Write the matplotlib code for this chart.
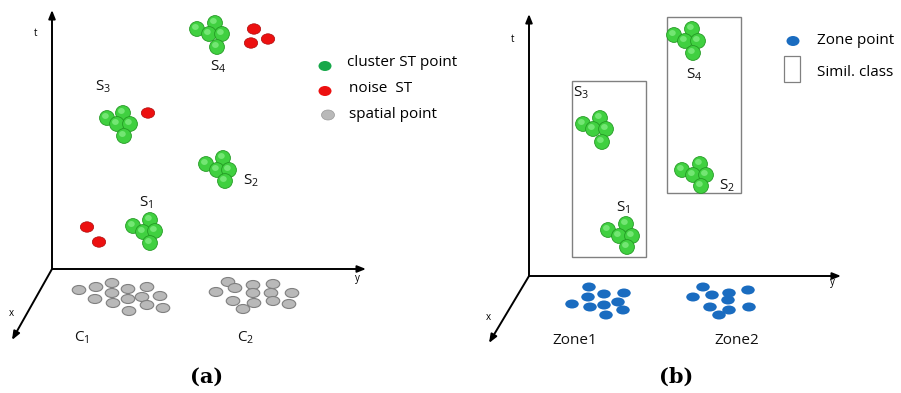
"""
Spatio-temporal clusters: (a) ST clusters with noise over spatial clusters,
(b) similarity classes of ST clusters over zones.
"""

import matplotlib.pyplot as plt
from matplotlib.patches import Ellipse, Rectangle

plt.rcParams["font.family"] = ["Open Sans", "DejaVu Sans"]
plt.rcParams["mathtext.default"] = "regular"

# ---- panel (a) ----
a_origin = (52, 269)
a_t_tip = (52, 10)
a_y_tip = (366, 269)
a_x_tip = (12, 340)

a_clusters = {
    "S$_4$": [(197, 29), (215, 23), (209, 34), (222, 34), (217, 47)],
    "S$_3$": [(107, 118), (123, 113), (117, 124), (130, 124), (124, 136)],
    "S$_2$": [(206, 164), (223, 158), (217, 170), (229, 170), (225, 181)],
    "S$_1$": [(133, 226), (150, 220), (143, 232), (155, 231), (150, 243)],
}
a_cluster_labels = {
    "S$_4$": (218, 67),
    "S$_3$": (103, 87),
    "S$_2$": (251, 181),
    "S$_1$": (146, 203),
}
a_noise = [(254, 29), (251, 43), (268, 39), (148, 113), (87, 227), (99, 242)]

c1_points = [(79, 290), (96, 287), (112, 283), (128, 289), (147, 287), (112, 293),
             (95, 299), (113, 303), (128, 299), (142, 297), (160, 296), (147, 305),
             (163, 308), (129, 311)]
c2_points = [(216, 292), (228, 282), (235, 288), (253, 285), (273, 284), (253, 293),
             (271, 293), (292, 293), (233, 301), (254, 303), (273, 301), (289, 304),
             (243, 309)]
a_spatial_labels = {"C$_1$": (82, 338), "C$_2$": (246, 338)}

a_legend = ["cluster ST point", "noise  ST", "spatial point"]

# ---- panel (b) ----
b_origin = (529, 276)
b_t_tip = (529, 14)
b_y_tip = (841, 276)
b_x_tip = (489, 343)

b_clusters = {
    "S$_4$": [(674, 35), (692, 29), (685, 41), (698, 41), (693, 53)],
    "S$_3$": [(583, 124), (600, 118), (593, 129), (606, 129), (602, 142)],
    "S$_2$": [(682, 170), (700, 164), (693, 175), (706, 175), (701, 186)],
    "S$_1$": [(608, 230), (626, 224), (619, 236), (632, 236), (627, 247)],
}
b_cluster_labels = {
    "S$_4$": (694, 75),
    "S$_3$": (581, 93),
    "S$_2$": (727, 186),
    "S$_1$": (623, 208),
}
# similarity classes: (left, top, right, bottom)
b_classes = [(572, 81, 646, 257), (667, 17, 741, 193)]

zone1_points = [(589, 287), (624, 293), (588, 297), (604, 294), (572, 304), (590, 307),
                (604, 305), (618, 302), (623, 310), (606, 315)]
zone2_points = [(703, 287), (748, 290), (693, 297), (712, 295), (729, 293), (728, 300),
                (710, 307), (729, 310), (749, 307), (719, 315)]
b_zone_labels = {"Zone1": (575, 340), "Zone2": (737, 340)}

b_legend = ["Zone point", "Simil. class"]

GREEN = "#40d040"
GREEN_EDGE = "#239a23"
GREEN_HI = "#96f596"
RED = "#ec1010"
GRAY = "#b9b9b9"
GRAY_EDGE = "#7f7f7f"
BLUE = "#1a6cc0"


def ball(ax, x, y, r=7.4):
    ax.add_patch(Ellipse((x, y), 2 * r, 2 * r, fc=GREEN, ec=GREEN_EDGE, lw=0.6, zorder=3))
    ax.add_patch(Ellipse((x - 1.6, y - 2.0), r * 0.9, r * 0.8, fc=GREEN_HI, ec="none",
                         alpha=0.6, zorder=3))


def flat(ax, x, y, fc, ec="none", w=13.5, h=9, lw=0.8):
    ax.add_patch(Ellipse((x, y), w, h, fc=fc, ec=ec, lw=lw, zorder=3))


def axes3d(ax, origin, t_tip, y_tip, x_tip):
    for tip in (t_tip, y_tip, x_tip):
        ax.annotate("", xy=tip, xytext=origin,
                    arrowprops=dict(arrowstyle="-|>,head_length=0.5,head_width=0.2",
                                    color="black", lw=1.4, shrinkA=0, shrinkB=0))


fig = plt.figure(figsize=(9.01, 3.93), dpi=100)
ax = fig.add_axes([0, 0, 1, 1])
ax.set_xlim(0, 901)
ax.set_ylim(393, 0)
ax.axis("off")

lbl = dict(fontsize=11, ha="center", va="center", color="#111111")

# panel (a)
axes3d(ax, a_origin, a_t_tip, a_y_tip, a_x_tip)
ax.text(36, 33, "t", fontsize=7, ha="center", va="center")
ax.text(357, 279, "y", fontsize=7, ha="center", va="center")
ax.text(11, 313, "x", fontsize=7, ha="center", va="center")

for name, pts in a_clusters.items():
    for x, y in pts:
        ball(ax, x, y)
    ax.text(*a_cluster_labels[name], name, **lbl)
for x, y in a_noise:
    flat(ax, x, y, RED, ec="#a00000", w=13.5, h=10.5, lw=0.4)
for x, y in c1_points + c2_points:
    flat(ax, x, y, GRAY, ec=GRAY_EDGE)
for name, pos in a_spatial_labels.items():
    ax.text(*pos, name, **lbl)

flat(ax, 325, 66, "#17a84a", w=13, h=10)
flat(ax, 325, 91, RED, w=13, h=10)
flat(ax, 328, 115, GRAY, ec="#999999", w=13, h=10, lw=0.5)
for i, text in enumerate(a_legend):
    ax.text(347 if i == 0 else 349, 63 + 25.5 * i, text, fontsize=11, ha="left", va="center")

ax.text(207, 377, "(a)", fontsize=15, fontweight="bold", family="DejaVu Serif",
        ha="center", va="center")

# panel (b)
axes3d(ax, b_origin, b_t_tip, b_y_tip, b_x_tip)
ax.text(513, 39, "t", fontsize=7, ha="center", va="center")
ax.text(832, 283, "y", fontsize=7, ha="center", va="center")
ax.text(488, 318, "x", fontsize=7, ha="center", va="center")

for left, top, right, bottom in b_classes:
    ax.add_patch(Rectangle((left, top), right - left, bottom - top, fill=False,
                           ec="#808080", lw=1.0, zorder=2))
for name, pts in b_clusters.items():
    for x, y in pts:
        ball(ax, x, y)
    ax.text(*b_cluster_labels[name], name, **lbl)
for x, y in zone1_points + zone2_points:
    flat(ax, x, y, BLUE)
for name, pos in b_zone_labels.items():
    ax.text(*pos, name, **lbl)

flat(ax, 793, 41, BLUE, w=13, h=10)
ax.add_patch(Rectangle((784, 56), 16, 26, fill=False, ec="#808080", lw=0.9))
for i, text in enumerate(b_legend):
    ax.text(817, 41 + 31 * i, text, fontsize=11, ha="left", va="center")

ax.text(676, 377, "(b)", fontsize=15, fontweight="bold", family="DejaVu Serif",
        ha="center", va="center")

fig.savefig("out.png", dpi=100)
